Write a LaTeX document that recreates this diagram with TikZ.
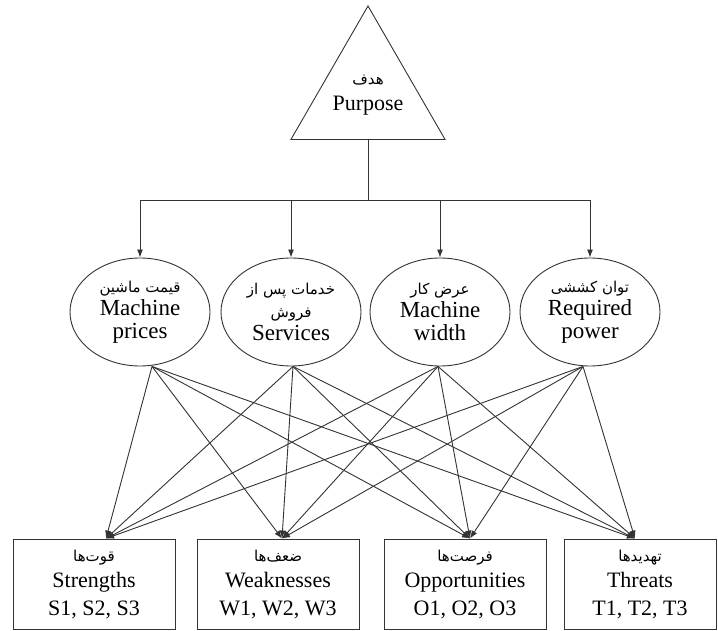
\documentclass[tikz,border=0pt]{standalone}
\usepackage{fontspec}
\setmainfont{Liberation Serif}
\newfontfamily\fafont[Script=Arabic]{DejaVu Sans}
\TeXXeTstate=1
\usetikzlibrary{arrows.meta}
\usetikzlibrary{shapes.geometric}

\newcommand{\fa}[1]{{\fafont\fontsize{15}{23}\selectfont\beginR #1\endR}}

\tikzset{
  goalbox/.style={draw=black!80, line width=0.9pt, regular polygon, regular polygon sides=3,
    minimum size=178pt, inner sep=0pt},
  critbox/.style={draw=black!80, line width=0.9pt, ellipse, minimum width=140pt,
    minimum height=108pt, inner sep=0pt, align=center, font=\fontsize{23}{23}\selectfont},
  swotbox/.style={draw=black!80, line width=0.9pt, rectangle, minimum width=162pt,
    minimum height=90pt, inner sep=0pt, align=center},
  tree/.style={draw=black!80, line width=0.9pt},
  link/.style={draw=black!80, line width=0.9pt, -{Latex[length=8pt,width=6pt]}},
}

\begin{document}
\begin{tikzpicture}[x=1pt,y=1pt,font=\fontsize{22}{26}\selectfont] % 1 unit = 1 px of the sketch
        \useasboundingbox (0,0) rectangle (718,630);

        % goal on top
        \node[goalbox, label={[align=center]center:\fa{هدف}\\Purpose}] (goal) at (368,535) {};

        % criteria
        \node[critbox] (price) at (140,318) {\fa{قیمت ماشین}\\Machine\\prices};
        \node[critbox] (serv) at (291,318) {\fa{خدمات پس از}\\\fa{فروش}\\Services};
        \node[critbox] (wid) at (440,318) {\fa{عرض کار}\\Machine\\width};
        \node[critbox] (power) at (590,318) {\fa{توان کششی}\\Required\\power};

        % swot boxes
        \node[swotbox] (str) at (94,46) {\fa{قوت‌ها}\\Strengths\\[2pt]S1, S2, S3};
        \node[swotbox] (weak) at (278,46) {\fa{ضعف‌ها}\\Weaknesses\\[2pt]W1, W2, W3};
        \node[swotbox] (opp) at (465,46) {\fa{فرصت‌ها}\\Opportunities\\[2pt]O1, O2, O3};
        \node[swotbox, minimum width=152pt] (thr) at (640,46) {\fa{تهدیدها}\\Threats\\[2pt]T1, T2, T3};

        % goal -> criteria
        \coordinate (bar) at (368,430);
        \draw[tree] (goal.south) -- (bar);
        \draw[tree] (price.north |- bar) -- (power.north |- bar);
        \foreach \c in {price,serv,wid,power}
            \draw[link] (\c.north |- bar) -- (\c.north);

        % where the links leave and meet
        \coordinate (price-out) at ([xshift=12pt]price.south);
        \coordinate (serv-out) at ([xshift=2pt]serv.south);
        \coordinate (wid-out) at ([xshift=-2pt]wid.south);
        \coordinate (power-out) at ([xshift=-7pt]power.south);
        \coordinate (str-in) at ([xshift=12pt]str.north);
        \coordinate (weak-in) at ([xshift=4pt]weak.north);
        \coordinate (opp-in) at ([xshift=5pt]opp.north);
        \coordinate (thr-in) at ([xshift=-5pt]thr.north);

        % every criterion -> every swot box
        \foreach \c in {price,serv,wid,power}
            \foreach \s in {str,weak,opp,thr}
                \draw[link] (\c-out) -- (\s-in);
    \end{tikzpicture}
\end{document}
